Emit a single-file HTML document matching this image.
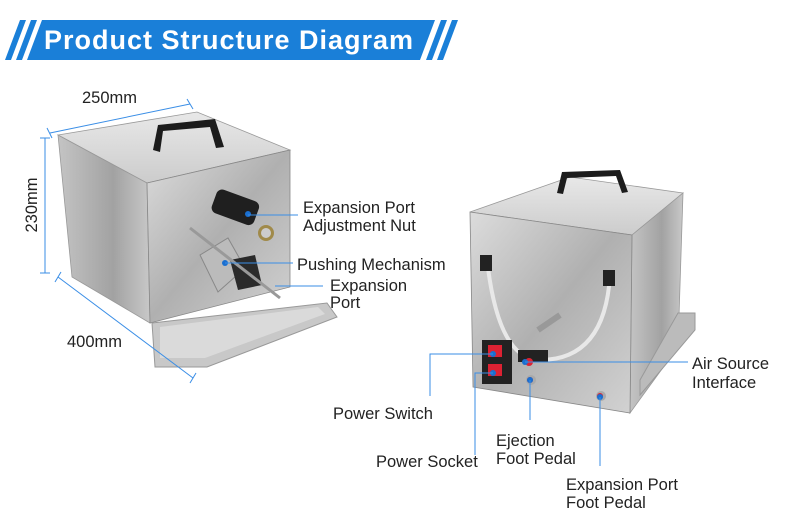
<!DOCTYPE html>
<html><head><meta charset="utf-8"><style>
body{margin:0;background:#fff;}
svg{display:block;font-family:"Liberation Sans",sans-serif;}
</style></head><body>
<svg width="790" height="529" viewBox="0 0 790 529">
<defs>
<linearGradient id="steel" x1="0" y1="0" x2="1" y2="1">
<stop offset="0" stop-color="#dcdcdc"/><stop offset="0.5" stop-color="#b0b0b0"/><stop offset="1" stop-color="#d2d2d2"/></linearGradient>
<linearGradient id="steel2" x1="0" y1="0" x2="1" y2="0">
<stop offset="0" stop-color="#c4c4c4"/><stop offset="0.6" stop-color="#a2a2a2"/><stop offset="1" stop-color="#c8c8c8"/></linearGradient>
<linearGradient id="top" x1="0" y1="0" x2="0" y2="1">
<stop offset="0" stop-color="#e8e8e8"/><stop offset="1" stop-color="#cccccc"/></linearGradient>
</defs>
<!-- banner -->
<polygon points="20,20 26,20 11,60 5,60" fill="#1a7fd8"/>
<polygon points="31,20 37,20 22,60 16,60" fill="#1a7fd8"/>
<polygon points="42,20 435,20 420,60 27,60" fill="#1a7fd8"/>
<polygon points="441,20 447,20 432,60 426,60" fill="#1a7fd8"/>
<polygon points="452,20 458,20 443,60 437,60" fill="#1a7fd8"/>
<text x="44" y="49" font-size="27" font-weight="bold" fill="#fff" textLength="369">Product Structure Diagram</text>

<!-- left machine -->
<polygon points="58,135 197,112 290,150 147,183" fill="url(#top)" stroke="#999" stroke-width="0.8"/>
<polygon points="58,135 147,183 150,323 72,277" fill="url(#steel2)" stroke="#999" stroke-width="0.8"/>
<polygon points="147,183 290,150 290,287 150,323" fill="url(#steel)" stroke="#888" stroke-width="0.8"/>
<path d="M153,150 L158,125 L215,119 L224,147 L216,148 L210,127 L163,131 L160,152Z" fill="#1c1c1c"/>
<polygon points="152,323 327,303 337,317 207,367 155,367" fill="#c8c8c8" stroke="#999"/>
<polygon points="160,327 318,307 325,314 205,358 160,358" fill="#dadada"/>
<rect x="213" y="195" width="45" height="25" rx="6" fill="#1f1f1f" transform="rotate(20 236 207)"/>
<circle cx="266" cy="233" r="8" fill="#a08a4a"/><circle cx="266" cy="233" r="5" fill="#ccc"/>
<polygon points="200,255 228,238 245,268 218,292" fill="#bbb" stroke="#888"/>
<polygon points="230,260 255,255 262,285 238,290" fill="#2a2a2a"/>
<line x1="190" y1="228" x2="280" y2="298" stroke="#999" stroke-width="3"/>
<circle cx="225" cy="263" r="3" fill="#1a6fd0"/><circle cx="248" cy="214" r="3" fill="#1a6fd0"/>

<!-- right machine -->
<polygon points="470,212 570,177 683,193 632,235" fill="url(#top)" stroke="#999" stroke-width="0.8"/>
<polygon points="632,235 683,193 678,347 630,413" fill="url(#steel2)" stroke="#999" stroke-width="0.8"/>
<polygon points="678,313 695,313 695,330 640,395 640,380" fill="#bbb" stroke="#999"/>
<polygon points="470,212 632,235 630,413 473,387" fill="url(#steel)" stroke="#888" stroke-width="0.8"/>
<path d="M557,193 L562,172 L620,170 L628,192 L622,193 L616,176 L567,178 L563,194Z" fill="#1c1c1c"/>
<path d="M488,268 Q500,360 540,360 Q605,360 610,275" fill="none" stroke="#e8e8e8" stroke-width="4"/>
<rect x="480" y="255" width="12" height="16" fill="#222"/><rect x="603" y="270" width="12" height="16" fill="#222"/>
<line x1="538" y1="330" x2="560" y2="315" stroke="#999" stroke-width="6"/>
<rect x="482" y="340" width="30" height="44" fill="#222"/>
<rect x="488" y="345" width="14" height="12" fill="#d23"/><rect x="488" y="364" width="14" height="12" fill="#d23"/>
<rect x="518" y="350" width="30" height="12" fill="#222"/>
<circle cx="529" cy="362" r="4" fill="#d23"/><circle cx="531" cy="380" r="5" fill="#aaa"/><circle cx="530" cy="380" r="3" fill="#d23"/>
<circle cx="601" cy="396" r="5" fill="#aaa"/><circle cx="600" cy="396" r="3" fill="#d23"/>
<g fill="#1a6fd0"><circle cx="525" cy="362" r="3"/><circle cx="493" cy="354" r="3"/><circle cx="493" cy="373" r="3"/><circle cx="530" cy="380" r="3"/><circle cx="600" cy="397" r="3"/></g>

<!-- lines -->
<g stroke="#3a8ee6" stroke-width="1" fill="none">
<line x1="50" y1="133" x2="190" y2="104"/><line x1="47" y1="128" x2="52" y2="138"/><line x1="187" y1="99" x2="193" y2="109"/>
<line x1="45" y1="138" x2="45" y2="273"/><line x1="40" y1="138" x2="50" y2="138"/><line x1="40" y1="273" x2="50" y2="273"/>
<line x1="58" y1="277" x2="193" y2="378"/><line x1="61" y1="272" x2="55" y2="282"/><line x1="196" y1="373" x2="190" y2="383"/>
<line x1="248" y1="215" x2="298" y2="215"/>
<line x1="225" y1="263" x2="293" y2="263"/>
<line x1="275" y1="286" x2="323" y2="286"/>
<line x1="525" y1="362" x2="688" y2="362"/>
<polyline points="493,354 430,354 430,396"/>
<polyline points="493,373 475,373 475,455"/>
<line x1="530" y1="380" x2="530" y2="420"/>
<line x1="600" y1="397" x2="600" y2="466"/>
</g>
<g font-size="16.5" fill="#222">
<text x="82" y="103">250mm</text>
<text transform="translate(37,205) rotate(-90)" text-anchor="middle">230mm</text>
<text x="67" y="347">400mm</text>
<text x="303" y="213">Expansion Port</text>
<text x="303" y="231">Adjustment Nut</text>
<text x="297" y="270">Pushing Mechanism</text>
<text x="330" y="291">Expansion</text>
<text x="330" y="308">Port</text>
<text x="692" y="369">Air Source</text>
<text x="692" y="388">Interface</text>
<text x="333" y="419">Power Switch</text>
<text x="376" y="467">Power Socket</text>
<text x="496" y="446">Ejection</text>
<text x="496" y="464">Foot Pedal</text>
<text x="566" y="490">Expansion Port</text>
<text x="566" y="508">Foot Pedal</text>
</g>
</svg>
</body></html>
